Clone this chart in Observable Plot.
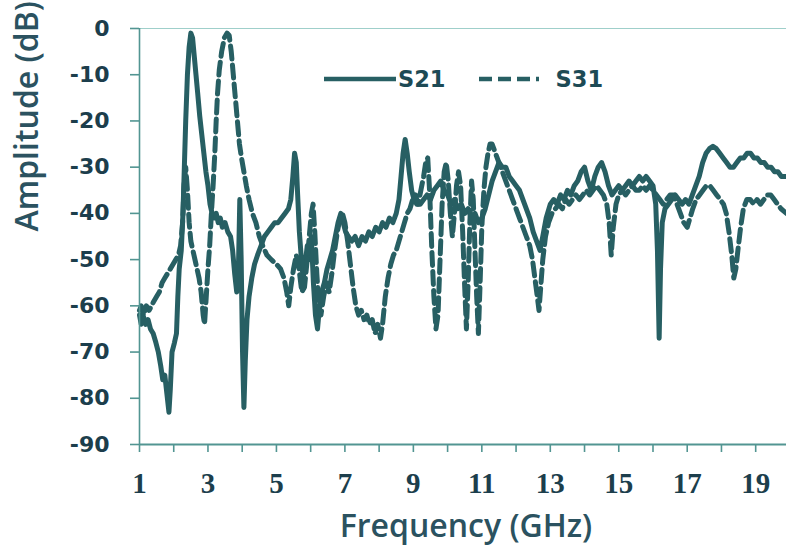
<!DOCTYPE html>
<html>
<head>
<meta charset="utf-8">
<script src="https://cdn.jsdelivr.net/npm/d3@7"></script>
<script src="https://cdn.jsdelivr.net/npm/@observablehq/plot@0.6"></script>
<style>
  body { margin: 0; background: #ffffff; }
  #wrap { position: relative; width: 786px; height: 548px; overflow: hidden; }
  #legend { position: absolute; left: 324px; top: 66px; display: flex; align-items: center;
            font-family: "DejaVu Sans", sans-serif; font-weight: bold; font-size: 22.5px; color: #1d4a55; }
  #legend span { line-height: 26px; }
  #legend svg { display: block; }
</style>
</head>
<body>
<div id="wrap"><div id="legend"></div></div>
<script>
const seriesNames = ["S21", "S31"];

const freqS21 = [1.00,1.05,1.10,1.18,1.25,1.32,1.40,1.48,1.55,1.62,1.68,1.74,1.80,1.86,1.90,1.95,2.02,2.08,2.12,2.16,2.22,2.27,2.31,2.35,2.40,2.45,2.50,2.55,2.60,2.65,2.70,2.76,2.82,2.88,2.94,3.00,3.06,3.12,3.18,3.24,3.30,3.36,3.42,3.50,3.58,3.66,3.72,3.78,3.84,3.89,3.93,3.97,4.01,4.05,4.09,4.14,4.20,4.28,4.36,4.45,4.55,4.65,4.75,4.85,4.95,5.05,5.15,5.25,5.35,5.42,5.48,5.53,5.58,5.62,5.67,5.72,5.78,5.84,5.90,5.96,6.02,6.08,6.14,6.20,6.26,6.32,6.40,6.48,6.56,6.64,6.72,6.80,6.88,6.95,7.02,7.10,7.20,7.30,7.40,7.50,7.60,7.70,7.80,7.90,8.00,8.10,8.20,8.30,8.40,8.50,8.58,8.64,8.70,8.76,8.82,8.88,8.95,9.02,9.10,9.20,9.30,9.40,9.50,9.60,9.70,9.80,9.90,10.00,10.10,10.20,10.30,10.40,10.50,10.60,10.70,10.80,10.90,11.00,11.10,11.20,11.30,11.40,11.50,11.60,11.70,11.80,11.90,12.00,12.10,12.20,12.30,12.40,12.50,12.60,12.70,12.78,12.88,13.00,13.10,13.20,13.30,13.40,13.50,13.60,13.70,13.80,13.90,14.00,14.10,14.20,14.30,14.40,14.50,14.60,14.70,14.80,14.90,15.00,15.10,15.20,15.30,15.40,15.50,15.60,15.70,15.80,15.90,16.00,16.08,16.13,16.18,16.22,16.27,16.35,16.45,16.55,16.65,16.75,16.85,16.95,17.05,17.15,17.25,17.35,17.45,17.55,17.65,17.75,17.85,17.95,18.05,18.15,18.25,18.35,18.45,18.55,18.65,18.75,18.85,18.95,19.05,19.15,19.25,19.35,19.45,19.55,19.65,19.75,19.90];
const dbS21 = [-62,-64,-62,-64,-63,-65,-66,-68,-70,-73,-76,-75,-79,-83,-78,-70,-68,-66,-58,-52,-48,-40,-30,-20,-10,-4,-1,-2,-6,-10,-14,-19,-23,-27,-31,-34,-38,-40,-41,-40,-42,-41,-43,-42,-44,-45,-48,-53,-57,-52,-37,-50,-70,-82,-72,-63,-58,-54,-51,-49,-47,-45,-44,-43,-42,-42,-41,-40,-39,-37,-32,-27,-29,-36,-44,-49,-54,-51,-47,-50,-45,-55,-62,-65,-60,-57,-55,-52,-50,-48,-45,-42,-40,-42,-44,-45,-46,-45,-47,-45,-46,-44,-45,-43,-44,-42,-43,-41,-42,-40,-37,-32,-27,-24,-27,-31,-35,-37,-38,-38,-37,-36,-37,-35,-34,-33,-35,-36,-38,-37,-39,-38,-40,-39,-41,-40,-42,-41,-39,-36,-33,-31,-29,-30,-30,-32,-33,-34,-35,-37,-39,-41,-44,-46,-48,-45,-41,-38,-37,-38,-36,-37,-35,-36,-34,-33,-31,-30,-33,-35,-32,-30,-29,-31,-34,-36,-35,-34,-35,-34,-33,-34,-33,-32,-33,-32,-33,-34,-38,-48,-67,-52,-42,-39,-38,-37,-36,-37,-38,-37,-38,-36,-34,-32,-29,-27,-26,-25.5,-26,-27,-28,-29,-30,-30,-29,-28,-28,-27,-27,-28,-28,-29,-29,-30,-30,-31,-31,-32,-32];

const freqS31 = [1.00,1.05,1.12,1.20,1.28,1.35,1.42,1.50,1.58,1.66,1.74,1.82,1.90,1.98,2.06,2.14,2.20,2.26,2.30,2.35,2.40,2.45,2.50,2.56,2.62,2.68,2.74,2.80,2.86,2.90,2.95,3.00,3.05,3.10,3.15,3.20,3.24,3.28,3.33,3.40,3.48,3.56,3.62,3.68,3.74,3.80,3.86,3.92,3.98,4.05,4.12,4.20,4.30,4.40,4.50,4.60,4.72,4.85,5.00,5.12,5.22,5.30,5.36,5.42,5.50,5.58,5.66,5.74,5.82,5.90,5.97,6.02,6.07,6.12,6.18,6.24,6.30,6.38,6.46,6.54,6.62,6.70,6.78,6.86,6.93,7.00,7.08,7.16,7.24,7.32,7.40,7.48,7.56,7.64,7.72,7.80,7.88,7.96,8.04,8.10,8.18,8.26,8.34,8.42,8.50,8.58,8.66,8.74,8.82,8.90,8.98,9.06,9.14,9.22,9.30,9.36,9.42,9.48,9.54,9.60,9.66,9.72,9.78,9.84,9.90,9.96,10.02,10.08,10.14,10.20,10.26,10.32,10.38,10.44,10.50,10.55,10.60,10.65,10.70,10.75,10.80,10.85,10.90,10.95,11.00,11.06,11.12,11.18,11.24,11.30,11.40,11.50,11.60,11.70,11.80,11.90,12.00,12.10,12.20,12.30,12.40,12.48,12.55,12.62,12.67,12.72,12.78,12.86,12.95,13.05,13.15,13.25,13.35,13.45,13.55,13.65,13.75,13.85,13.95,14.05,14.15,14.25,14.35,14.45,14.55,14.65,14.72,14.78,14.84,14.92,15.00,15.10,15.20,15.30,15.40,15.50,15.60,15.70,15.80,15.90,16.00,16.10,16.20,16.30,16.40,16.50,16.60,16.70,16.80,16.90,17.00,17.08,17.16,17.26,17.36,17.46,17.56,17.66,17.76,17.86,17.96,18.06,18.14,18.22,18.30,18.36,18.42,18.48,18.56,18.64,18.74,18.84,18.94,19.04,19.14,19.24,19.34,19.44,19.54,19.64,19.74,19.90];
const dbS31 = [-61,-60,-62,-60,-61,-60,-59,-58,-57,-55,-54,-53,-52,-51,-50,-49,-47,-42,-34,-30,-35,-42,-46,-48,-50,-52,-54,-57,-62,-64,-58,-52,-47,-40,-34,-27,-20,-14,-9,-5,-2,-1,-1.5,-5,-10,-15,-20,-25,-28,-31,-34,-37,-40,-42,-45,-47,-49,-50,-51,-52,-54,-57,-60,-56,-52,-49,-52,-57,-56,-50,-44,-40,-38,-44,-53,-60,-62,-58,-55,-57,-53,-48,-44,-41,-40,-42,-46,-51,-56,-60,-62,-61,-63,-62,-64,-63,-66,-64,-67,-64,-58,-54,-51,-49,-48,-46,-44,-42,-40,-39,-37,-36,-38,-35,-32,-29,-28,-36,-48,-58,-65,-62,-50,-38,-31,-29,-33,-40,-45,-40,-34,-31,-34,-44,-56,-65,-55,-42,-33,-37,-48,-58,-66,-55,-43,-35,-30,-27,-25,-25,-27,-29,-31,-33,-35,-37,-39,-41,-43,-45,-47,-50,-54,-58,-61,-56,-50,-45,-42,-40,-39,-38,-39,-37,-38,-37,-36,-37,-36,-35,-36,-35,-34,-35,-36,-38,-42,-49,-43,-38,-36,-35,-36,-35,-34,-35,-35,-34,-35,-34,-35,-36,-37,-38,-37,-36,-36,-38,-40,-42,-43,-41,-39,-37,-36,-35,-34,-34,-35,-36,-37,-38,-40,-44,-49,-54,-52,-48,-43,-39,-37,-37,-38,-37,-38,-37,-36,-36,-37,-38,-39,-40];

const xDomain = [1, 19.9];
const yDomain = [-90, 0];
const yTicks = [0, -10, -20, -30, -40, -50, -60, -70, -80, -90];
const xTicks = [1,2,3,4,5,6,7,8,9,10,11,12,13,14,15,16,17,18,19];
const xLabelTicks = [1, 3, 5, 7, 9, 11, 13, 15, 17, 19];
const xTitle = "Frequency (GHz)";
const yTitle = "Amplitude (dB)";

const s21 = freqS21.map((f, i) => ({f, db: dbS21[i]}));
const s31 = freqS31.map((f, i) => ({f, db: dbS31[i]}));

const lineColor = "#275f63";
const axisColor = "#529592";
const labelColor = "#1c3e4c";
const titleColor = "#2b5260";

const chart = Plot.plot({
  width: 786,
  height: 548,
  marginLeft: 139,
  marginRight: 0,
  marginTop: 28,
  marginBottom: 104,
  x: {domain: xDomain},
  y: {domain: yDomain},
  style: {background: "transparent", overflow: "visible"},
  marks: [
    Plot.ruleY([yDomain[1]], {stroke: "#9fcfca", strokeWidth: 1.2}),
    Plot.line(s21, {x: "f", y: "db", stroke: lineColor, strokeWidth: 5, strokeLinejoin: "round"}),
    Plot.line(s31, {x: "f", y: "db", stroke: lineColor, strokeWidth: 5, strokeDasharray: "13,6"}),
    Plot.ruleX([xDomain[0]], {stroke: axisColor, strokeWidth: 1.6}),
    Plot.ruleY([yDomain[0]], {stroke: axisColor, strokeWidth: 2}),
    Plot.axisY({ticks: yTicks, tickSize: 9, tickPadding: 21, tickFormat: d => String(d), label: null,
      fontSize: 22, fontFamily: "DejaVu Sans", fontWeight: "bold", stroke: axisColor, fill: labelColor, strokeWidth: 1.6}),
    Plot.axisX({ticks: xTicks, tickSize: 8, tickFormat: () => "", label: null, stroke: axisColor, strokeWidth: 1.6}),
    Plot.axisX({ticks: xLabelTicks, tickSize: 0, tickPadding: 28, tickFormat: d => String(d), label: null,
      fontSize: 29, fontFamily: "Liberation Serif", fontWeight: "bold", fill: labelColor}),
    Plot.text([xTitle], {text: d => d, frameAnchor: "bottom", dx: 3, dy: 92, fontSize: 32,
      fontFamily: "Open Sans", fontWeight: 600, fill: titleColor}),
    Plot.text([yTitle], {text: d => d, frameAnchor: "left", rotate: -90, dx: -112, dy: -5, fontSize: 32,
      fontFamily: "Open Sans", fontWeight: 600, fill: titleColor})
  ]
});
const wrap = document.getElementById("wrap");
wrap.insertBefore(chart, wrap.firstChild);

// legend
const legend = document.getElementById("legend");
const dashes = [null, "13,6"];
const widths = [72, 60];
const gaps = [33, 18];
seriesNames.forEach((name, i) => {
  const svgNS = "http://www.w3.org/2000/svg";
  const s = document.createElementNS(svgNS, "svg");
  s.setAttribute("width", widths[i]);
  s.setAttribute("height", 10);
  s.style.marginRight = (i === 0 ? 2 : 17) + "px";
  const l = document.createElementNS(svgNS, "line");
  l.setAttribute("x1", 0); l.setAttribute("x2", widths[i]);
  l.setAttribute("y1", 5); l.setAttribute("y2", 5);
  l.setAttribute("stroke", lineColor);
  l.setAttribute("stroke-width", 4.5);
  if (dashes[i]) l.setAttribute("stroke-dasharray", dashes[i]);
  legend.appendChild(s);
  s.appendChild(l);
  const t = document.createElement("span");
  t.textContent = name;
  t.style.marginRight = gaps[i] + "px";
  legend.appendChild(t);
});
</script>
</body>
</html>
